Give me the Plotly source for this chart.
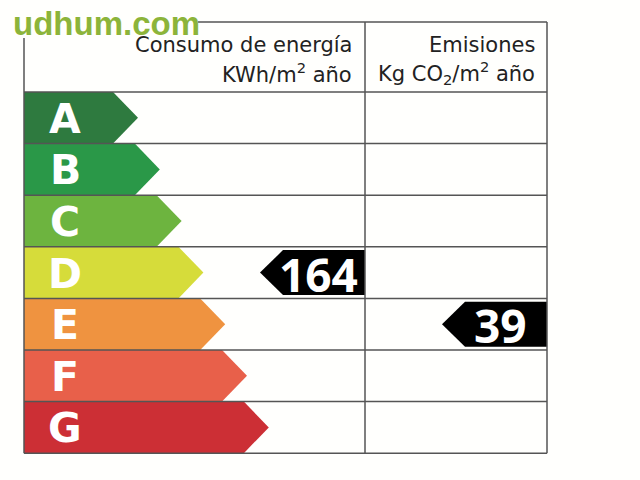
import plotly.graph_objects as go

# ---- data ----
classes = ["A", "B", "C", "D", "E", "F", "G"]
class_colors = ["#2e7a3f", "#2a9848", "#6db43f", "#d6dc3a", "#ef9340", "#e8604a", "#cc2f35"]
consumo_value = 164
consumo_class = "D"
emisiones_value = 39
emisiones_class = "E"
header_consumo = ["Consumo de energía", "KWh/m<sup>2</sup> año"]
header_emisiones = ["Emisiones", "Kg CO<sub>2</sub>/m<sup>2</sup> año"]
watermark = "udhum.com"

# ---- layout constants (pixel-like units) ----
W, H = 640, 480
T_LEFT, T_SPLIT, T_RIGHT = 24, 365, 547
T_TOP, HEAD_BOTTOM = 22, 92
ROW_H = 51.6
TIP_BASE, TIP_STEP, TIP_DEPTH = 138, 21.8, 25
MARK_H, MARK_DEPTH, MARK_LEN = 45, 23, 105
WM_RIGHT, WM_BOTTOM = 198, 38   # area hidden by the watermark
LINE_COLOR = "#555555"

fig = go.Figure()

def row_top(i):
    return HEAD_BOTTOM + i * ROW_H

# class arrows
for i, (c, col) in enumerate(zip(classes, class_colors)):
    y0 = row_top(i)
    y1 = y0 + ROW_H
    ym = (y0 + y1) / 2
    tip = TIP_BASE + i * TIP_STEP
    xs = [T_LEFT, tip - TIP_DEPTH, tip, tip - TIP_DEPTH, T_LEFT, T_LEFT]
    ys = [y0, y0, ym, y1, y1, y0]
    fig.add_trace(go.Scatter(x=xs, y=ys, fill="toself", fillcolor=col,
                             line=dict(width=0), mode="lines", hoverinfo="skip",
                             showlegend=False))
    fig.add_annotation(x=65, y=ym + 1, text=c, showarrow=False,
                       font=dict(family="DejaVu Sans", size=41, color="white", weight="bold"),
                       xanchor="center", yanchor="middle")

# value markers
def add_marker(value, cls, x_right):
    i = classes.index(cls)
    ym = row_top(i) + ROW_H / 2
    y0, y1 = ym - MARK_H / 2, ym + MARK_H / 2
    tip = x_right - MARK_LEN
    xs = [x_right, tip + MARK_DEPTH, tip, tip + MARK_DEPTH, x_right, x_right]
    ys = [y0, y0, ym, y1, y1, y0]
    fig.add_trace(go.Scatter(x=xs, y=ys, fill="toself", fillcolor="black",
                             line=dict(width=0), mode="lines", hoverinfo="skip",
                             showlegend=False))
    fig.add_annotation(x=x_right - 47, y=ym + 1, text=f"<b>{value}</b>",
                       showarrow=False, xanchor="center", yanchor="middle",
                       font=dict(family="Open Sans", size=46, color="white"))

add_marker(consumo_value, consumo_class, T_SPLIT)
add_marker(emisiones_value, emisiones_class, T_RIGHT)

# table lines
shapes = []
bottom = row_top(len(classes))
lw = dict(color=LINE_COLOR, width=1.5)
shapes.append(dict(type="line", x0=WM_RIGHT, x1=T_RIGHT, y0=T_TOP, y1=T_TOP, line=lw))
shapes.append(dict(type="line", x0=T_LEFT, x1=T_LEFT, y0=WM_BOTTOM, y1=bottom, line=lw))
shapes.append(dict(type="line", x0=T_RIGHT, x1=T_RIGHT, y0=T_TOP, y1=bottom, line=lw))
shapes.append(dict(type="line", x0=T_LEFT, x1=T_RIGHT, y0=bottom, y1=bottom, line=lw))
shapes.append(dict(type="line", x0=T_SPLIT, x1=T_SPLIT, y0=T_TOP, y1=bottom, line=lw))
for i in range(len(classes)):
    y = row_top(i)
    shapes.append(dict(type="line", x0=T_LEFT, x1=T_RIGHT, y0=y, y1=y, line=lw))
fig.update_layout(shapes=shapes)

# headers
hfont = dict(family="DejaVu Sans", size=21, color="#222222")
for k, txt in enumerate(header_consumo):
    fig.add_annotation(x=T_SPLIT - 11, y=45 + k * 28, text=txt, showarrow=False,
                       xanchor="right", yanchor="middle", font=hfont)
for k, txt in enumerate(header_emisiones):
    fig.add_annotation(x=T_RIGHT - 10, y=45 + k * 28, text=txt, showarrow=False,
                       xanchor="right", yanchor="middle", font=hfont)

# watermark
fig.add_annotation(x=11, y=23, text=f"<b>{watermark}</b>", showarrow=False,
                   xanchor="left", yanchor="middle",
                   font=dict(family="Liberation Sans", size=33, color="#8cb43a"))

fig.update_layout(
    width=W, height=H, margin=dict(l=0, r=0, t=0, b=0),
    paper_bgcolor="#fffffd", plot_bgcolor="#fffffd",
    xaxis=dict(range=[0, W], visible=False, fixedrange=True),
    yaxis=dict(range=[H, 0], visible=False, fixedrange=True),
    showlegend=False,
)

fig.write_html("out.html", config={"displayModeBar": False},
               post_script="document.body.style.margin='0';document.body.style.overflow='hidden';")
